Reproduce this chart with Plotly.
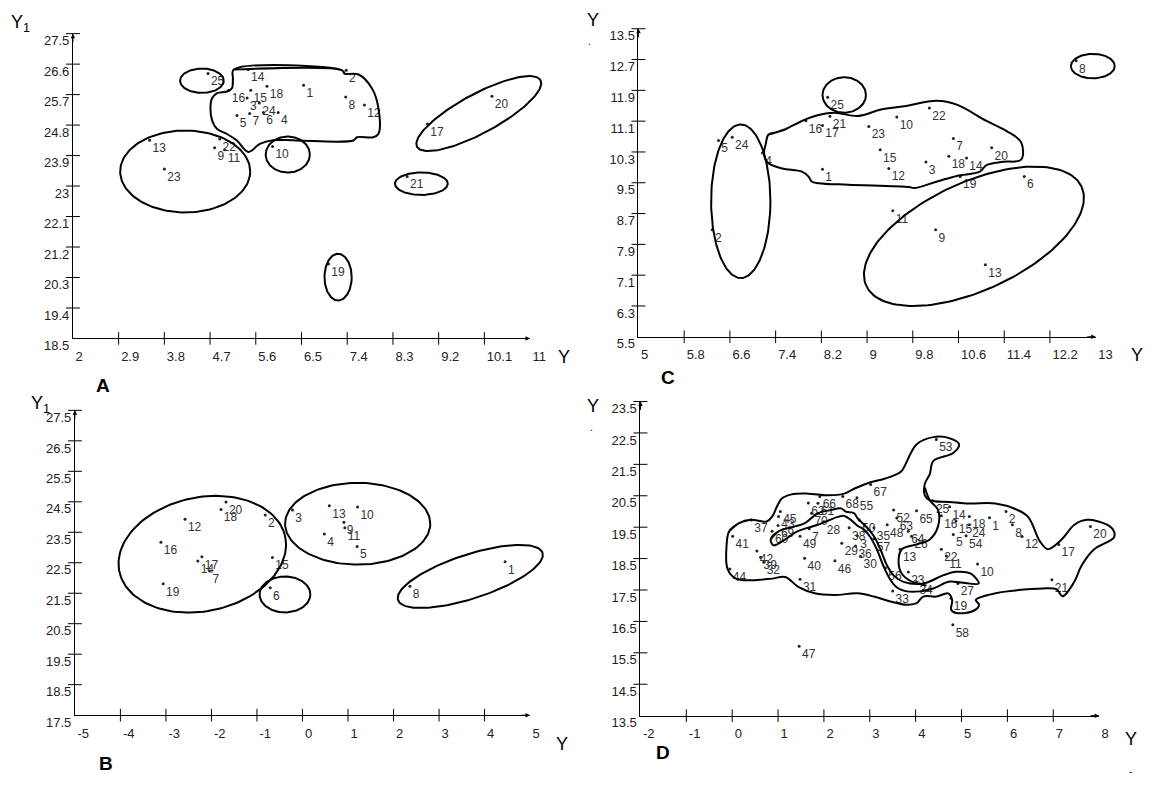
import numpy as np
import plotly.graph_objects as go

W, H = 1157, 790

# ---------------- Panel A ----------------
a_lab = [str(i) for i in range(1, 26)]
a_x = [6.54, 7.38, 5.43, 6.04, 5.23, 5.75, 5.48, 7.37, 4.79, 5.93, 4.99, 7.74, 3.51,
       5.45, 5.50, 5.07, 8.98, 5.82, 7.03, 10.25, 8.58, 4.89, 3.80, 5.67, 4.66]
a_y = [25.98, 26.42, 25.60, 25.17, 25.08, 25.17, 25.14, 25.63, 24.13, 24.17, 24.07, 25.39, 24.35,
       26.44, 25.83, 25.83, 24.83, 25.95, 20.70, 25.65, 23.28, 24.39, 23.50, 25.45, 26.32]
a_xticks = [2, 2.9, 3.8, 4.7, 5.6, 6.5, 7.4, 8.3, 9.2, 10.1, 11]
a_yticks = [18.5, 19.4, 20.3, 21.2, 22.1, 23, 23.9, 24.8, 25.7, 26.6, 27.5]
# ellipses: centre x, centre y, semi-axis vector 1 (dx, dy), semi-axis vector 2 (dx, dy)
a_ellipses = [
    [4.54, 26.11, 0.43, 0.0, 0.0, 0.36],
    [4.21, 23.43, 1.28, 0.0, 0.0, 1.21],
    [6.23, 23.93, 0.435, 0.0, 0.0, 0.53],
    [9.99, 25.14, 1.215, 0.984, 0.185, -0.509],
    [8.86, 23.07, 0.52, 0.0, 0.0, 0.333],
    [7.22, 20.31, 0.268, 0.0, 0.0, 0.69],
]
a_cont_x = [5.163, 7.301, 7.346, 7.624, 7.885, 8.013, 8.013, 7.910, 7.593, 7.521, 6.393, 5.941,
            5.680, 5.455, 5.227, 5.033, 4.838, 4.741, 4.708, 4.741, 4.838, 5.033, 5.130, 5.150]
a_cont_y = [26.438, 26.418, 26.322, 26.293, 25.888, 25.310, 24.537, 24.442, 24.442, 24.346, 24.346, 24.355,
            24.248, 24.008, 24.346, 24.537, 24.682, 24.933, 25.310, 25.599, 25.744, 25.793, 25.888, 26.178]

# ---------------- Panel B ----------------
b_lab = [str(i) for i in range(1, 21)]
b_x = [4.45, -0.82, -0.22, 0.48, 1.20, -0.71, -2.04, 2.36, 0.91, 1.21,
       0.93, -2.58, 0.59, -2.30, -0.66, -3.11, -2.21, -1.79, -3.06, -1.68]
b_y = [22.53, 24.07, 24.23, 23.44, 23.03, 21.68, 22.23, 21.73, 23.83, 24.33,
       23.65, 23.93, 24.37, 22.56, 22.67, 23.17, 22.70, 24.25, 21.81, 24.49]
b_xticks = [-5, -4, -3, -2, -1, 0, 1, 2, 3, 4, 5]
b_yticks = [17.5, 18.5, 19.5, 20.5, 21.5, 22.5, 23.5, 24.5, 25.5, 26.5, 27.5]
b_ellipses = [
    [-2.201, 22.78, 1.821, 0.576, 0.262, -1.826],
    [-0.385, 21.46, 0.558, 0.0, 0.0, 0.59],
    [1.212, 23.78, 1.595, 0.0, 0.0, 1.341],
    [3.686, 22.05, 1.587, 0.776, 0.152, -0.686],
]

# ---------------- Panel C ----------------
c_lab = [str(i) for i in range(1, 26)]
c_x = [8.22, 6.29, 10.03, 7.17, 6.40, 11.75, 10.51, 12.66, 10.20, 9.52, 9.45, 9.38, 11.07,
       10.74, 9.23, 7.93, 8.22, 10.43, 10.63, 11.18, 8.35, 10.09, 9.03, 6.64, 8.31]
c_y = [9.85, 8.28, 10.04, 10.27, 10.60, 9.66, 10.65, 12.67, 8.28, 11.21, 8.77, 9.87, 7.37,
       10.14, 10.36, 11.11, 10.99, 10.19, 9.66, 10.41, 11.23, 11.44, 10.96, 10.68, 11.72]
c_xticks = [5, 5.8, 6.6, 7.4, 8.2, 9, 9.8, 10.6, 11.4, 12.2, 13]
c_yticks = [5.5, 6.3, 7.1, 7.9, 8.7, 9.5, 10.3, 11.1, 11.9, 12.7, 13.5]
c_ellipses = [
    [8.60, 11.78, 0.38, 0.0, 0.0, 0.46],
    [12.95, 12.53, 0.384, 0.0, 0.0, 0.318],
    [6.79, 9.02, 0.519, 0.0, 0.0, 1.995],
    [10.87, 8.11, 1.882, 1.292, 0.402, -1.269],
]
c_cont_x = [7.272, 7.400, 7.573, 7.860, 8.149, 8.438, 8.841, 9.244, 9.649, 10.225, 10.571, 11.090,
            11.436, 11.696, 11.696, 11.379, 11.090, 10.974, 10.571, 10.225, 9.822, 9.735, 8.668,
            8.154, 8.028, 7.976, 7.860, 7.514, 7.284, 7.227, 7.197, 7.227]
c_cont_y = [10.748, 10.807, 10.891, 11.105, 11.258, 11.317, 11.233, 11.401, 11.487, 11.630, 11.528, 11.105,
            10.850, 10.552, 10.101, 10.043, 9.959, 9.788, 9.678, 9.533, 9.362, 9.388, 9.449,
            9.490, 9.533, 9.661, 9.788, 9.872, 9.999, 10.086, 10.297, 10.509]

# ---------------- Panel D ----------------
d_lab = ["1", "2", "8", "12", "17", "20", "21", "10", "11", "22", "19", "27", "58", "47", "33",
         "34", "23", "56", "13", "30", "29", "36", "3", "57", "35", "50", "38", "28", "49", "7",
         "40", "46", "31", "44", "41", "37", "42", "39", "32", "45", "43", "69", "60", "70", "62",
         "61", "66", "68", "55", "67", "53", "52", "63", "48", "64", "26", "65", "25", "14", "16",
         "15", "18", "24", "5", "54"]
d_x = [5.61, 5.97, 6.11, 6.32, 7.12, 7.81, 6.97, 5.35, 4.67, 4.56, 4.77, 4.92, 4.81, 1.46, 3.50,
       4.02, 3.84, 3.34, 3.66, 2.80, 2.39, 2.69, 2.73, 3.09, 3.09, 2.77, 2.55, 2.00, 1.48, 1.68,
       1.58, 2.24, 1.48, -0.05, 0.01, 0.42, 0.54, 0.62, 0.69, 1.05, 1.01, 1.00, 0.87, 1.73, 1.66,
       1.87, 1.91, 2.41, 2.72, 3.02, 4.45, 3.52, 3.59, 3.38, 3.84, 3.91, 4.02, 4.38, 4.74, 4.56,
       4.88, 5.17, 5.17, 4.82, 5.10]
d_y = [19.80, 20.00, 19.58, 19.20, 18.95, 19.52, 17.83, 18.33, 18.58, 18.80, 17.24, 17.71, 16.39, 15.71, 17.47,
       17.76, 18.07, 18.20, 18.80, 18.57, 18.99, 18.90, 19.23, 19.13, 19.48, 19.73, 19.48, 19.67, 19.21, 19.45,
       18.51, 18.43, 17.84, 18.17, 19.21, 19.73, 18.74, 18.54, 18.38, 20.00, 19.84, 19.55, 19.37, 19.94, 20.27,
       20.26, 20.48, 20.48, 20.44, 20.86, 22.29, 20.05, 19.79, 19.58, 19.37, 19.21, 20.02, 20.34, 20.15, 19.86,
       19.70, 19.84, 19.58, 19.27, 19.23]
d_xticks = [-2, -1, 0, 1, 2, 3, 4, 5, 6, 7, 8]
d_yticks = [13.5, 14.5, 15.5, 16.5, 17.5, 18.5, 19.5, 20.5, 21.5, 22.5, 23.5]
# outer outline of the whole cluster
d_cont1_x = [0.409, 0.151, -0.065, -0.123, -0.101, 0.080, 0.437, 0.867, 1.155, 1.441, 1.800, 2.230, 2.731,
             3.090, 3.447, 3.806, 4.022, 4.166, 4.452, 4.710, 4.796, 4.774, 4.882, 5.241, 5.383, 5.312,
             5.456, 5.742, 6.000, 6.774, 7.075, 7.204, 7.462, 7.613, 7.892, 8.323, 8.323, 8.172, 7.742,
             7.462, 7.183, 6.882, 6.710, 6.452, 6.172, 5.742, 5.168, 4.738, 4.308, 4.200, 4.200, 4.308,
             4.387, 4.817, 4.946, 4.731, 4.387, 4.022, 3.699, 3.591, 3.305, 3.017, 2.660, 2.445, 2.086,
             1.656, 1.297, 1.082, 0.974, 0.882, 0.753]
d_cont1_y = [19.734, 19.631, 19.369, 18.901, 18.174, 17.862, 17.809, 17.862, 17.915, 17.603, 17.394, 17.341,
             17.394, 17.291, 17.135, 17.029, 17.082, 17.291, 17.291, 17.394, 17.176, 16.873, 16.770, 16.823,
             17.029, 17.185, 17.291, 17.394, 17.456, 17.550, 17.519, 17.300, 17.768, 18.267, 18.798, 19.172,
             19.369, 19.578, 19.734, 19.578, 19.110, 18.798, 19.048, 19.828, 20.078, 20.255, 20.255, 20.305,
             20.358, 20.514, 20.879, 21.191, 21.609, 21.859, 22.139, 22.336, 22.367, 22.139, 21.297, 21.191,
             21.035, 20.929, 20.723, 20.567, 20.514, 20.567, 20.545, 20.411, 20.149, 19.859, 19.681]
# thin inner band (closed)
d_cont2_x = [0.839, 1.011, 1.370, 1.585, 1.871, 2.157, 2.372, 2.480, 2.660, 2.731, 2.903, 3.090, 3.232,
             3.376, 3.520, 3.735, 4.166, 4.596, 4.882, 5.204, 5.376, 4.989, 4.738, 4.381, 4.092, 3.806,
             3.591, 3.447, 3.305, 3.161, 3.017, 2.875, 2.731, 2.587, 2.445, 2.301, 2.086, 1.871, 1.585,
             1.370, 1.155, 0.903]
d_cont2_y = [19.112, 19.369, 19.525, 19.631, 19.943, 20.046, 20.099, 19.993, 19.943, 19.787, 19.547, 19.213,
             18.798, 18.277, 17.965, 17.759, 17.706, 17.965, 18.080, 18.018, 17.706, 17.738, 17.768, 17.550,
             17.456, 17.456, 17.581, 17.831, 18.236, 18.767, 19.172, 19.422, 19.547, 19.734, 19.859, 19.828,
             19.703, 19.578, 19.453, 19.328, 19.110, 18.923]
# inner open line on the right side
d_cont3_x = [4.200, 4.308, 4.488, 4.488, 4.308, 4.022, 3.699, 3.628, 3.699, 3.914, 4.237]
d_cont3_y = [20.764, 20.358, 20.046, 19.525, 19.110, 18.954, 18.798, 18.383, 18.018, 17.768, 17.644]

panels = [
    dict(lab=a_lab, x=a_x, y=a_y, xt=a_xticks, yt=a_yticks, ell=a_ellipses,
         conts=[(a_cont_x, a_cont_y, True)]),
    dict(lab=b_lab, x=b_x, y=b_y, xt=b_xticks, yt=b_yticks, ell=b_ellipses, conts=[]),
    dict(lab=c_lab, x=c_x, y=c_y, xt=c_xticks, yt=c_yticks, ell=c_ellipses,
         conts=[(c_cont_x, c_cont_y, True)]),
    dict(lab=d_lab, x=d_x, y=d_y, xt=d_xticks, yt=d_yticks, ell=[],
         conts=[(d_cont1_x, d_cont1_y, True), (d_cont2_x, d_cont2_y, True), (d_cont3_x, d_cont3_y, False)]),
]

# plot areas in pixels (left, right, top, bottom)
boxes = [(74, 538, 34.3, 345), (76, 538, 418.3, 729), (648, 1112, 29.3, 343.3), (650, 1115.5, 409.3, 729.5)]
PAD = 28  # extra room (px) for outlines that run past the axes

FONT = "Liberation Sans, Arial, sans-serif"
fig = go.Figure()
layout = dict(width=W, height=H, margin=dict(l=0, r=0, t=0, b=0),
              paper_bgcolor="white", plot_bgcolor="rgba(0,0,0,0)", showlegend=False,
              font=dict(family=FONT, color="#222"))
annotations = []
tt = np.linspace(0, 2 * np.pi, 160)

for i, (p, bx) in enumerate(zip(panels, boxes)):
    n = i + 1
    xa = "x" if n == 1 else f"x{n}"
    ya = "y" if n == 1 else f"y{n}"
    xo, yo = f"x{n + 4}", f"y{n + 4}"  # hidden twin axes with the same scale, larger area
    xr = [p["xt"][0], p["xt"][-1]]
    yr = [p["yt"][0], p["yt"][-1]]
    l, r, t, b = bx
    ux = (xr[1] - xr[0]) / (r - l)
    uy = (yr[1] - yr[0]) / (b - t)
    pl, pr = min(PAD, l), min(PAD, W - r)
    pt, pb = min(PAD, t), min(PAD, H - b)
    layout["xaxis" if n == 1 else f"xaxis{n}"] = dict(
        domain=[l / W, r / W], anchor=ya, range=xr, showgrid=False, zeroline=False,
        showline=True, linecolor="black", linewidth=1, ticks="",
        tickvals=p["xt"], ticktext=[f"{v:g}" for v in p["xt"]],
        ticklabelposition="outside right", ticklabelshift=2, ticklabelstandoff=6,
        tickfont=dict(size=13, color="#222", family=FONT))
    layout["yaxis" if n == 1 else f"yaxis{n}"] = dict(
        domain=[1 - b / H, 1 - t / H], anchor=xa, range=yr, showgrid=False, zeroline=False,
        showline=True, linecolor="black", linewidth=1, ticks="",
        tickvals=p["yt"], ticktext=[f"{v:g}" for v in p["yt"]],
        ticklabelposition="outside bottom", ticklabelshift=-2, ticklabelstandoff=0,
        tickfont=dict(size=13, color="#222", family=FONT))
    layout[f"xaxis{n + 4}"] = dict(domain=[(l - pl) / W, (r + pr) / W], anchor=yo, visible=False,
                                   range=[xr[0] - pl * ux, xr[1] + pr * ux], fixedrange=True)
    layout[f"yaxis{n + 4}"] = dict(domain=[1 - (b + pb) / H, 1 - (t - pt) / H], anchor=xo, visible=False,
                                   range=[yr[0] - pb * uy, yr[1] + pt * uy], fixedrange=True)
    # crossing tick marks
    fig.add_trace(go.Scatter(x=p["xt"][1:-1], y=[yr[0]] * (len(p["xt"]) - 2), mode="markers",
                             xaxis=xa, yaxis=ya, cliponaxis=False, hoverinfo="skip",
                             marker=dict(symbol="line-ns-open", size=9, color="black",
                                         line=dict(width=1, color="black"))))
    fig.add_trace(go.Scatter(x=[xr[0]] * (len(p["yt"]) - 1), y=p["yt"][1:], mode="markers",
                             xaxis=xa, yaxis=ya, cliponaxis=False, hoverinfo="skip",
                             marker=dict(symbol="line-ew-open", size=10, color="black",
                                         line=dict(width=1, color="black"))))
    # axis arrows
    annotations.append(dict(x=xr[1], y=yr[0], xref=xa, yref=ya, text="", showarrow=True,
                            ax=-10, ay=0, arrowhead=2, arrowsize=0.9, arrowwidth=1, arrowcolor="black"))
    annotations.append(dict(x=xr[0], y=yr[1], xref=xa, yref=ya, text="", showarrow=True,
                            ax=0, ay=10, arrowhead=2, arrowsize=0.9, arrowwidth=1, arrowcolor="black"))
    # ellipses
    for e in p["ell"]:
        cx, cy, vx1, vy1, vx2, vy2 = e
        fig.add_trace(go.Scatter(x=cx + vx1 * np.cos(tt) + vx2 * np.sin(tt),
                                 y=cy + vy1 * np.cos(tt) + vy2 * np.sin(tt), mode="lines",
                                 xaxis=xo, yaxis=yo, hoverinfo="skip",
                                 line=dict(color="black", width=2)))
    # freehand outlines
    for cxs, cys, closed in p["conts"]:
        xs, ys = list(cxs), list(cys)
        if closed:
            xs, ys = xs + xs[:3], ys + ys[:3]
        fig.add_trace(go.Scatter(x=xs, y=ys, mode="lines", xaxis=xo, yaxis=yo, hoverinfo="skip",
                                 line=dict(color="black", width=2, shape="spline", smoothing=1.0)))
    # points
    fig.add_trace(go.Scatter(x=p["x"], y=p["y"], text=p["lab"], mode="markers+text",
                             textposition="bottom right", xaxis=xa, yaxis=ya, cliponaxis=False,
                             textfont=dict(size=12, color="#333", family=FONT),
                             marker=dict(size=3, color="#222")))

def txt(x, y, s, size=18, xanchor="center"):
    annotations.append(dict(x=x / W, y=1 - y / H, xref="paper", yref="paper", text=s,
                            showarrow=False, xanchor=xanchor, yanchor="middle",
                            font=dict(size=size, color="black", family=FONT)))

# axis titles and panel letters
txt(21, 24, "Y<sub>1</sub>")
txt(572, 364, "Y")
txt(41, 412, "Y<sub>1</sub>")
txt(570, 758, "Y")
txt(602, 20, "Y")
txt(598, 42, ".", size=10)
txt(1146, 362, "Y", xanchor="left")
txt(602, 414, "Y")
txt(600, 436, ".", size=10)
txt(1148, 753, "Y")
txt(1147, 786, "-", size=10)
txt(105, 393, "<b>A</b>", size=19)
txt(108, 778, "<b>B</b>", size=19)
txt(678, 385, "<b>C</b>", size=19)
txt(673, 767, "<b>D</b>", size=19)

layout["annotations"] = annotations
fig.update_layout(**layout)
fig.write_html("out.html")
